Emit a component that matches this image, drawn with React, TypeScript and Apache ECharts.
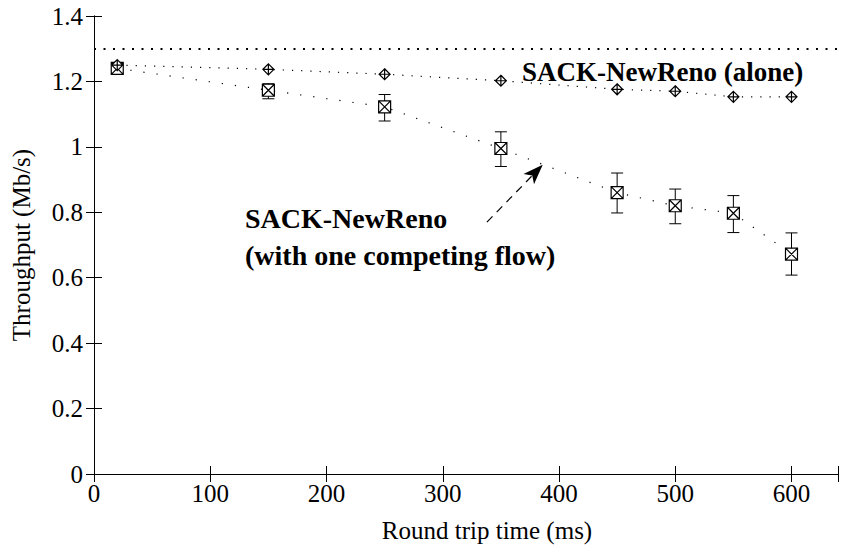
import React, { useEffect, useRef } from "react";
import * as echarts from "echarts";

// Round trip times (ms)
const rtt = [20, 150, 250, 350, 450, 500, 550, 600];
// SACK-NewReno running alone (Mb/s)
const aloneThroughput = [1.25, 1.237, 1.222, 1.202, 1.176, 1.17, 1.153, 1.153];
// SACK-NewReno with one competing flow (Mb/s): mean and error-bar bounds
const competingThroughput = [1.24, 1.173, 1.122, 0.995, 0.86, 0.82, 0.797, 0.672];
const competingLow = [1.228, 1.147, 1.079, 0.94, 0.798, 0.765, 0.738, 0.608];
const competingHigh = [1.252, 1.193, 1.16, 1.046, 0.92, 0.871, 0.851, 0.737];
// Link capacity reference line (Mb/s)
const capacity = 1.305;

const xTicks = [0, 100, 200, 300, 400, 500, 600];
const yTicks = [0, 0.2, 0.4, 0.6, 0.8, 1, 1.2, 1.4];

const FONT = "Liberation Serif";

const diamondPlus = "path://M5,0 L10,5 L5,10 L0,5 Z M5,0 L5,10 M0,5 L10,5";
const squareCross = "path://M0,0 L10,0 L10,10 L0,10 Z M0,0 L10,10 M10,0 L0,10";

export default function App() {
  const ref = useRef<HTMLDivElement>(null);

  useEffect(() => {
    if (!ref.current) return;
    const chart = echarts.init(ref.current, null, { renderer: "svg" });

    const axisLine = { show: true, lineStyle: { color: "#000", width: 1 } };
    const tickStyle = { color: "#000", width: 1 };

    chart.setOption({
      animation: false,
      backgroundColor: "#fff",
      grid: { left: 94, right: 2, top: 16, bottom: 74 },
      xAxis: [
        {
          type: "value",
          min: 0,
          max: 640,
          interval: 100,
          position: "bottom",
          name: "Round trip time (ms)",
          nameLocation: "middle",
          nameGap: 44,
          nameTextStyle: {
            fontFamily: FONT,
            fontSize: 25,
            color: "#000",
            padding: [0, 0, 0, 42],
          },
          axisLine,
          axisTick: { show: true, inside: true, length: 8, lineStyle: tickStyle },
          axisLabel: {
            fontFamily: FONT,
            fontSize: 25,
            color: "#000",
            margin: 7,
            formatter: (v: number) => (xTicks.includes(v) ? String(v) : ""),
          },
          splitLine: { show: false },
        },
        {
          type: "value",
          min: 0,
          max: 640,
          interval: 100,
          position: "top",
          axisLine,
          axisTick: { show: true, inside: true, length: 8, lineStyle: tickStyle },
          axisLabel: { show: false },
          splitLine: { show: false },
        },
      ],
      yAxis: [
        {
          type: "value",
          min: 0,
          max: 1.4,
          interval: 0.2,
          position: "left",
          name: "Throughput (Mb/s)",
          nameLocation: "middle",
          nameGap: 60,
          nameTextStyle: { fontFamily: FONT, fontSize: 25, color: "#000" },
          axisLine,
          axisTick: { show: true, inside: true, length: 8, lineStyle: tickStyle },
          axisLabel: {
            fontFamily: FONT,
            fontSize: 25,
            color: "#000",
            margin: 11,
            formatter: (v: number) => {
              const t = yTicks.find((k) => Math.abs(k - v) < 1e-6);
              return t === undefined ? "" : String(t);
            },
          },
          splitLine: { show: false },
        },
        {
          type: "value",
          min: 0,
          max: 1.4,
          interval: 0.2,
          position: "right",
          axisLine,
          axisTick: { show: true, inside: true, length: 8, lineStyle: tickStyle },
          axisLabel: { show: false },
          splitLine: { show: false },
        },
      ],
      series: [
        {
          name: "errorbars",
          type: "custom",
          xAxisIndex: 0,
          yAxisIndex: 0,
          z: 2,
          data: rtt.map((x, i) => [x, competingLow[i], competingHigh[i]]),
          renderItem: (_params: any, api: any) => {
            const x = api.value(0);
            const lo = api.coord([x, api.value(1)]);
            const hi = api.coord([x, api.value(2)]);
            const half = 6;
            const style = { stroke: "#000", lineWidth: 1 };
            return {
              type: "group",
              children: [
                { type: "line", shape: { x1: lo[0], y1: lo[1], x2: hi[0], y2: hi[1] }, style },
                { type: "line", shape: { x1: lo[0] - half, y1: lo[1], x2: lo[0] + half, y2: lo[1] }, style },
                { type: "line", shape: { x1: hi[0] - half, y1: hi[1], x2: hi[0] + half, y2: hi[1] }, style },
              ],
            };
          },
        },
        {
          name: "SACK-NewReno (with one competing flow)",
          type: "line",
          z: 3,
          data: rtt.map((x, i) => [x, competingThroughput[i]]),
          symbol: squareCross,
          symbolSize: 12,
          itemStyle: { color: "#fff", borderColor: "#000", borderWidth: 1.2 },
          lineStyle: { color: "#000", width: 1.2, type: [1.2, 12] },
          markLine: {
            silent: true,
            symbol: ["none", "arrow"],
            symbolSize: [11, 20],
            label: { show: false },
            lineStyle: { color: "#000", width: 1.2, type: [8, 6] },
            data: [[{ coord: [338, 0.77] }, { coord: [386, 0.945] }]],
          },
        },
        {
          name: "SACK-NewReno (alone)",
          type: "line",
          z: 4,
          data: rtt.map((x, i) => [x, aloneThroughput[i]]),
          symbol: diamondPlus,
          symbolSize: 11,
          itemStyle: { color: "#fff", borderColor: "#000", borderWidth: 1.2 },
          lineStyle: { color: "#000", width: 1.2, type: [1.2, 8] },
          markLine: {
            silent: true,
            symbol: ["none", "none"],
            label: { show: false },
            lineStyle: { color: "#000", width: 2, type: [2, 7.5] },
            data: [{ yAxis: capacity }],
          },
        },
      ],
      graphic: [
        {
          type: "text",
          x: 522,
          y: 72,
          style: {
            text: "SACK-NewReno (alone)",
            font: `bold 27px "${FONT}"`,
            fill: "#000",
            verticalAlign: "middle",
          },
        },
        {
          type: "text",
          x: 245,
          y: 218,
          style: {
            text: "SACK-NewReno",
            font: `bold 28px "${FONT}"`,
            fill: "#000",
            verticalAlign: "middle",
          },
        },
        {
          type: "text",
          x: 245,
          y: 255,
          style: {
            text: "(with one competing flow)",
            font: `bold 28px "${FONT}"`,
            fill: "#000",
            verticalAlign: "middle",
          },
        },
      ],
    });

    return () => chart.dispose();
  }, []);

  return (
    <div
      ref={ref}
      style={{ width: 841, height: 548, position: "absolute", left: 0, top: 0 }}
    />
  );
}
